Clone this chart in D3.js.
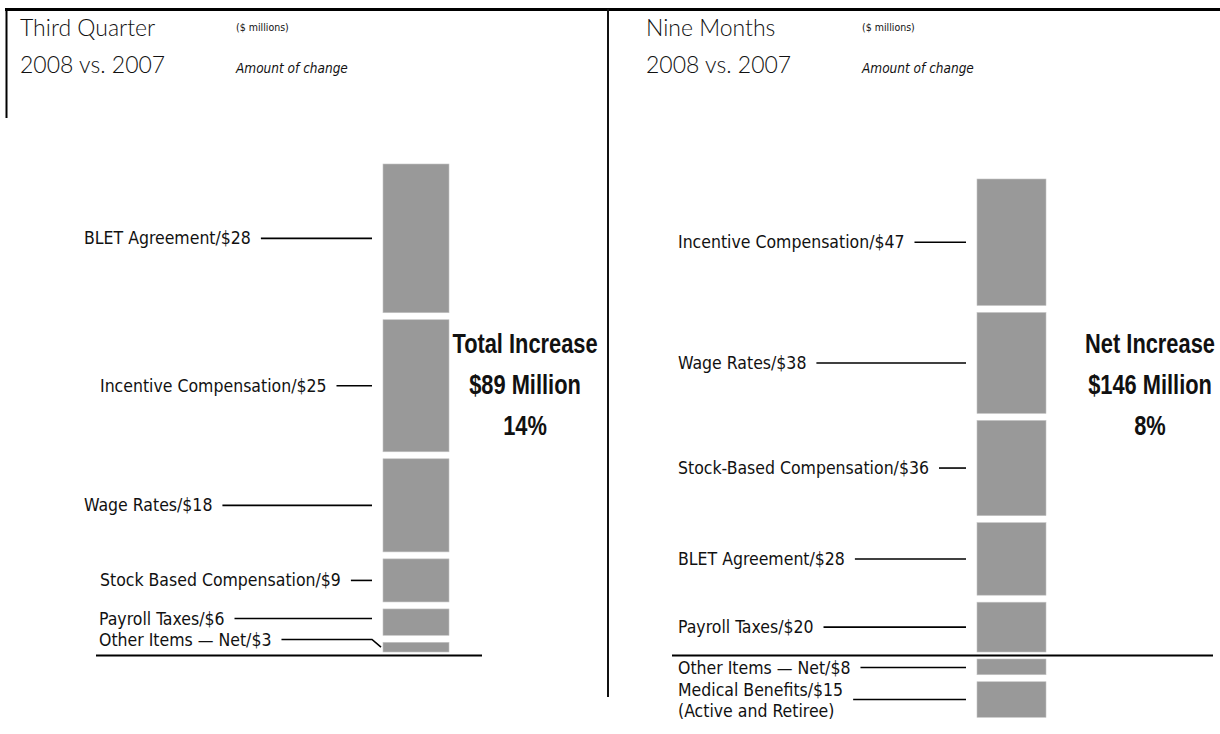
<!DOCTYPE html>
<html>
<head>
<meta charset="utf-8">
<script src="https://cdn.jsdelivr.net/npm/d3@7"></script>
<style>
  body { margin: 0; background: #fff; }
  svg { display: block; }
  .title { font-family: Lato, "Open Sans", sans-serif; font-weight: 300; font-size: 23px; fill: #111; }
  .note { font-family: "DejaVu Sans Condensed", "DejaVu Sans", sans-serif; font-stretch: condensed; fill: #111; }
  .label { font-family: "DejaVu Sans Condensed", "DejaVu Sans", sans-serif; font-stretch: condensed; font-size: 17.5px; fill: #111; }
  .headline { font-family: "Liberation Sans", Arial, sans-serif; font-weight: bold; font-size: 28px; fill: #111; }
</style>
</head>
<body>
<svg id="chart" width="1220" height="734"></svg>
<script>
// third quarter, top to bottom of the bar
const qtrTitle = ['Third Quarter', '2008 vs. 2007']
const qtrCategories = ['BLET Agreement', 'Incentive Compensation', 'Wage Rates', 'Stock Based Compensation', 'Payroll Taxes', 'Other Items \u2014 Net']
const qtrValues = [28, 25, 18, 9, 6, 3]
const qtrNotes = [null, null, null, null, null, null]
const qtrHeadline = ['Total Increase', '$89 Million', '14%']

// nine months, top to bottom (negatives hang below the line)
const nineTitle = ['Nine Months', '2008 vs. 2007']
const nineCategories = ['Incentive Compensation', 'Wage Rates', 'Stock-Based Compensation', 'BLET Agreement', 'Payroll Taxes', 'Other Items \u2014 Net', 'Medical Benefits']
const nineValues = [47, 38, 36, 28, 20, -8, -15]
const nineNotes = [null, null, null, null, null, null, '(Active and Retiree)']
const nineHeadline = ['Net Increase', '$146 Million', '8%']

const units = '($ millions)'
const subtitle = 'Amount of change'

const svg = d3.select('#chart')
const axisY = 655.5
const gap = 7

const panels = [
  { title: qtrTitle, cats: qtrCategories, vals: qtrValues, notes: qtrNotes, headline: qtrHeadline,
    titleX: 20, noteX: 236, barX: 383, barW: 66, top: 160.5, labelX: 84,
    indent: [0, 16, 0, 16, 15, 15], axis: [96, 482], headX: 525 },
  { title: nineTitle, cats: nineCategories, vals: nineValues, notes: nineNotes, headline: nineHeadline,
    titleX: 646, noteX: 862, barX: 977, barW: 69, top: 175.5, labelX: 678,
    indent: [0, 0, 0, 0, 0, 0, 0], axis: [672, 1213], headX: 1150 }
]

// frame
svg.append('line').attr('x1', 5).attr('x2', 1220).attr('y1', 9.5).attr('y2', 9.5)
  .attr('stroke', '#000').attr('stroke-width', 3)
svg.append('line').attr('x1', 6.5).attr('x2', 6.5).attr('y1', 9).attr('y2', 118)
  .attr('stroke', '#000').attr('stroke-width', 2)
svg.append('line').attr('x1', 608).attr('x2', 608).attr('y1', 9).attr('y2', 697)
  .attr('stroke', '#111').attr('stroke-width', 2)

panels.forEach(drawPanel)

function drawPanel(p) {
  const g = svg.append('g')

  g.selectAll('.title').data(p.title).enter().append('text')
    .attr('class', 'title')
    .attr('x', p.titleX)
    .attr('y', (d, i) => 36 + i * 37)
    .text(d => d)

  g.append('text').attr('class', 'note')
    .attr('x', p.noteX).attr('y', 31)
    .style('font-size', '10.5px')
    .text(units)
  g.append('text').attr('class', 'note')
    .attr('x', p.noteX).attr('y', 73)
    .style('font-size', '13.5px').style('font-style', 'italic')
    .text(subtitle)

  // stack: negatives first so they sit closest to zero, then positives bottom-up
  const row = {}
  p.cats.forEach((c, i) => { row[c] = p.vals[i] })
  const keys = p.cats.filter((c, i) => p.vals[i] < 0)
    .concat(p.cats.filter((c, i) => p.vals[i] >= 0).reverse())
  const series = d3.stack().keys(keys).offset(d3.stackOffsetDiverging)([row])
  const byKey = {}
  series.forEach(s => { byKey[s.key] = s[0] })

  const max = d3.max(series, s => s[0][1])
  const y = d3.scaleLinear().domain([0, max]).range([axisY, p.top])

  const segs = p.cats.map((c, i) => {
    const [y0, y1] = byKey[c]
    return { cat: c, value: p.vals[i], note: p.notes[i], indent: p.indent[i],
      top: y(y1) + gap / 2, bottom: y(y0) - gap / 2 }
  })

  g.selectAll('.seg').data(segs).enter().append('rect')
    .attr('class', 'seg')
    .attr('x', p.barX)
    .attr('width', p.barW)
    .attr('y', d => d.top)
    .attr('height', d => d.bottom - d.top)
    .attr('fill', '#999999')
    .attr('stroke', '#c4c4c4')
    .attr('stroke-width', 0.6)

  // label rows, kept apart from each other and from the zero line
  const pos = segs.filter(d => d.value >= 0)
  const neg = segs.filter(d => d.value < 0)
  let prev = null
  pos.slice().reverse().forEach(d => {
    const cy = (d.top + d.bottom) / 2
    d.cy = cy
    d.ly = prev == null ? Math.min(cy, axisY - 16) : Math.min(cy, prev - 21)
    prev = d.ly
  })
  prev = null
  neg.forEach(d => {
    const cy = (d.top + d.bottom) / 2
    d.cy = cy
    d.ly = prev == null ? Math.max(cy, axisY + 12) : Math.max(cy, prev + 21)
    prev = d.ly
  })

  const lab = g.selectAll('.lab').data(segs).enter().append('g').attr('class', 'lab')

  lab.append('text')
    .attr('class', 'label')
    .attr('x', d => p.labelX + d.indent)
    .attr('y', d => d.note ? d.ly - 4 : d.ly + 6)
    .text(d => `${d.cat}/$${Math.abs(d.value)}`)

  lab.filter(d => d.note).append('text')
    .attr('class', 'label')
    .attr('x', d => p.labelX + d.indent)
    .attr('y', d => d.ly + 17)
    .text(d => d.note)

  lab.append('path')
    .attr('fill', 'none')
    .attr('stroke', '#000')
    .attr('stroke-width', 1.6)
    .attr('d', function(d) {
      const w = this.parentNode.querySelector('text').getComputedTextLength()
      const x0 = p.labelX + d.indent + w + 10
      const x1 = p.barX - 11
      let s = `M${x0},${d.ly}H${x1}`
      if (d.ly < d.top || d.ly > d.bottom) s += `L${p.barX - 2},${d.cy}`
      return s
    })

  g.append('line')
    .attr('x1', p.axis[0]).attr('x2', p.axis[1])
    .attr('y1', axisY).attr('y2', axisY)
    .attr('stroke', '#000').attr('stroke-width', 2)

  // condensed bold headline: squeeze the bold face horizontally
  g.selectAll('.headline').data(p.headline).enter().append('text')
    .attr('class', 'headline')
    .attr('transform', (d, i) => `translate(${p.headX},${353 + i * 41}) scale(0.78,1)`)
    .attr('text-anchor', 'middle')
    .text(d => d)
}
</script>
</body>
</html>
